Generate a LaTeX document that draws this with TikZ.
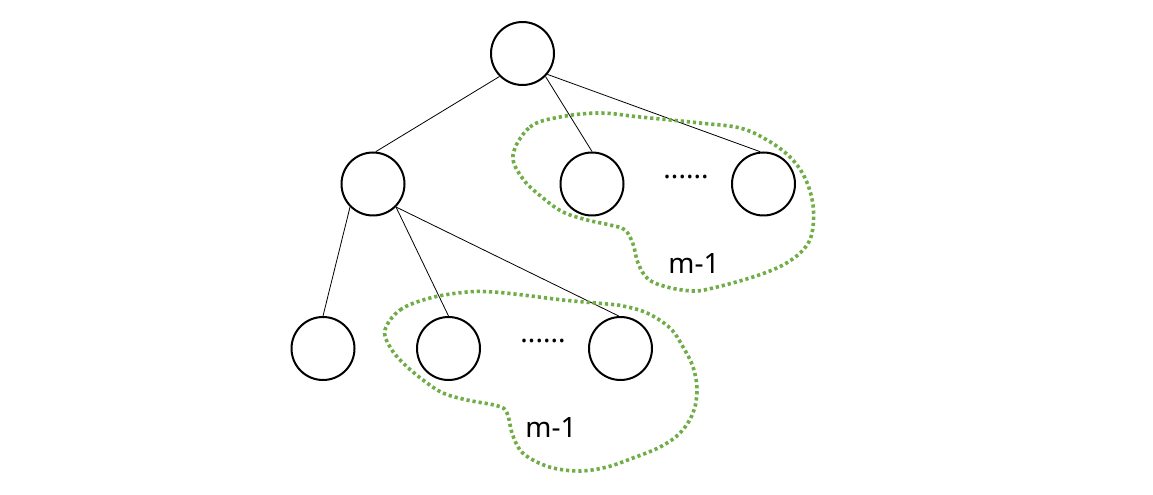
\documentclass[tikz,border=0pt]{standalone}
\usepackage{fontspec}
\setmainfont{Noto Sans}
\usepackage{xcolor}
\definecolor{OfficeGreen}{RGB}{112,173,71}
\tikzset{
  vertex/.style={circle,draw,line width=1.5pt,minimum size=47.25pt,inner sep=0pt},
  edge/.style={line width=0.6pt},
  group/.style={OfficeGreen,line width=2.7pt,dash pattern=on 2.4pt off 2.2pt},
  lbl/.style={font=\fontsize{21}{25}\selectfont,inner sep=0pt}
}

\begin{document}
\begin{tikzpicture}[x=0.75pt,y=-0.75pt, line cap=butt, line join=round]
  \useasboundingbox (0,0) rectangle (1153,495);

  % Vertices
  \node[vertex] (root) at (522.5,53.5) {};
  \node[vertex] (L)  at (373,184) {};
  \node[vertex] (M)  at (592,184) {};
  \node[vertex] (R)  at (763.5,184) {};
  \node[vertex] (LL) at (323,348.5) {};
  \node[vertex] (LM) at (448.5,348.5) {};
  \node[vertex] (LR) at (620.5,348.5) {};

  % Edges
  \draw[edge] (root.south west) -- (L.85);
  \draw[edge] (root.south east) -- (M.north);
  \draw[edge] (root.-40) -- (R.96);
  \draw[edge] (L.south west) -- (LL.north);
  \draw[edge] (L.south east) -- (LM.north);
  \draw[edge] (L.south east) -- (LR.93);

  % Dots and labels
  \node[lbl] (dotsM) at (686,177) {......};
  \node[lbl] (dotsL) at (543,341) {......};
  \node[lbl] (mM) at (694,264) {m-1};
  \node[lbl] (mL) at (551,428) {m-1};

  % Groups of m-1 subtrees
  \draw[group] plot[smooth cycle,tension=0.6] coordinates {
    (513,155) (530,127) (560,117) (600,113) (640,117) (700,123) (740,128)
    (767,140) (790,157) (805,178) (813,205) (812,233) (803,250) (783,265)
    (753,277) (713,288) (693,291) (667,287) (648,279) (638,263) (633,244)
    (625,230) (610,225) (587,220) (563,212) (543,198) (523,179)};

  \draw[group] plot[smooth cycle,tension=0.6] coordinates {
    (385,330) (400,310) (430,298) (467,292) (493,292) (523,295) (563,300)
    (607,304) (623,306) (647,313) (670,328) (683,347) (693,367) (697,390)
    (693,413) (680,433) (660,447) (633,458) (607,467) (580,471) (553,468)
    (533,460) (520,450) (512,433) (507,413) (498,406) (467,400) (443,393)
    (423,380) (403,363) (390,347)};
\end{tikzpicture}
\end{document}
